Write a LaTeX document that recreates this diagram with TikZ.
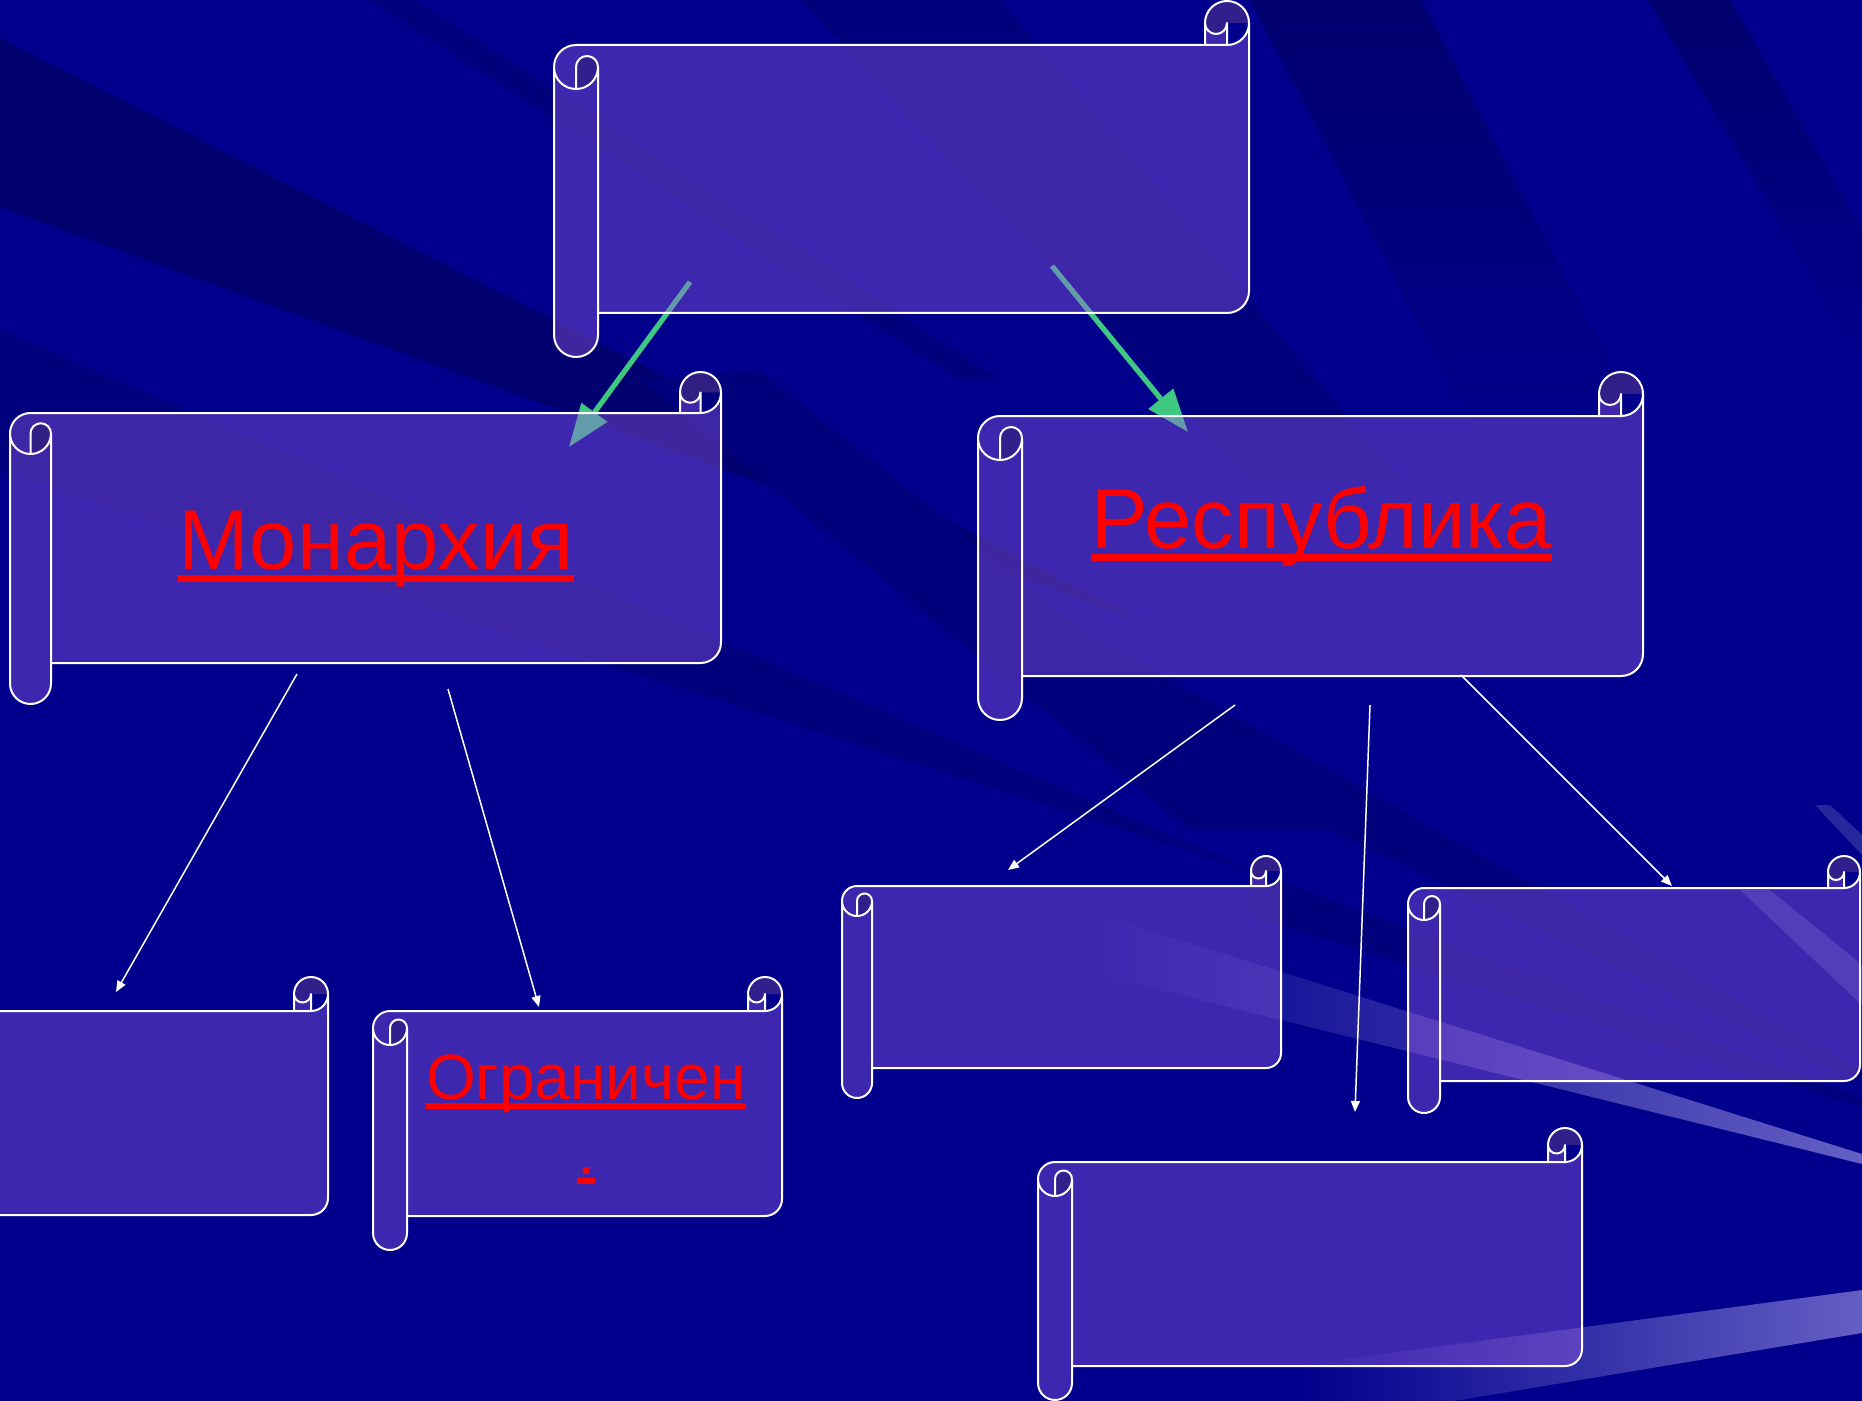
\documentclass[tikz,border=0pt]{standalone}
\usepackage{fontspec}
\setmainfont{Liberation Sans}
\usetikzlibrary{arrows.meta}
\definecolor{bgbase}{RGB}{0,0,140}
\definecolor{bgdark}{RGB}{0,0,110}
\definecolor{bgmid}{RGB}{0,0,124}
\definecolor{scrollfill}{RGB}{150,95,225}
\definecolor{arrowgreen}{RGB}{62,200,130}
\definecolor{raylight}{RGB}{100,95,195}
\definecolor{txtred}{RGB}{255,0,0}

\newcommand\redul[1]{\setbox0\hbox{#1}\rlap{\rule[-0.153em]{\wd0}{0.083em}}\box0}

% scroll: l, t, r, b, ch  (pixel units, y down)
\newcommand\scrollat[5]{%
  \pgfmathsetmacro\Sl{#1}\pgfmathsetmacro\St{#2}\pgfmathsetmacro\Sr{#3}\pgfmathsetmacro\Sb{#4}%
  \pgfmathsetmacro\Sc{#5}\pgfmathsetmacro\Sh{#5/2}\pgfmathsetmacro\Sq{#5/4}%
  % body
  \fill[scrollbody] (\Sr,\St+\Sh) arc[start angle=0,end angle=90,radius=\Sh]
     -- (\Sr-\Sh,\St+\Sh) arc[start angle=0,end angle=180,radius=\Sq]
     -- (\Sr-\Sc,\St+\Sc) -- (\Sl+\Sh,\St+\Sc) arc[start angle=270,end angle=180,radius=\Sh]
     -- (\Sl,\Sb-\Sh) arc[start angle=180,end angle=0,radius=\Sh]
     -- (\Sl+\Sc,\Sb-\Sc) -- (\Sr-\Sh,\Sb-\Sc) arc[start angle=90,end angle=0,radius=\Sh] -- cycle;
  % top right roll
  \fill[scrollbody] (\Sr-\Sc,\St+\Sh) arc[start angle=180,end angle=360,radius=\Sh]
     -- (\Sr-\Sh,\St+\Sh) arc[start angle=0,end angle=180,radius=\Sq] -- cycle;
  \fill[scrollshade] (\Sr-\Sc,\St+\Sh) arc[start angle=180,end angle=360,radius=\Sh]
     -- (\Sr-\Sh,\St+\Sh) arc[start angle=0,end angle=180,radius=\Sq] -- cycle;
  % left curl
  \fill[scrollshade] (\Sl+\Sh,\St+2*\Sc) arc[start angle=90,end angle=0,radius=\Sh]
     arc[start angle=0,end angle=-180,radius=\Sq] -- cycle;
  % outline
  \draw[scrollline] (\Sl,\St+\Sc+\Sh) arc[start angle=180,end angle=270,radius=\Sh]
     -- (\Sr-\Sc,\St+\Sc) -- (\Sr-\Sc,\St+\Sh) arc[start angle=180,end angle=360,radius=\Sh]
     -- (\Sr,\Sb-\Sc-\Sh) arc[start angle=0,end angle=90,radius=\Sh]
     -- (\Sl+\Sc,\Sb-\Sc) -- (\Sl+\Sc,\Sb-\Sh) arc[start angle=0,end angle=180,radius=\Sh] -- cycle
     (\Sr-\Sc,\St+\Sc) -- (\Sr-\Sh,\St+\Sc) arc[start angle=90,end angle=0,radius=\Sh]
     (\Sr-\Sh,\St+\Sc) -- (\Sr-\Sh,\St+\Sh) arc[start angle=0,end angle=180,radius=\Sq]
     (\Sl+\Sh,\St+2*\Sc) -- (\Sl+\Sh,\St+\Sc+\Sh) arc[start angle=180,end angle=360,radius=\Sq]
        arc[start angle=0,end angle=180,radius=\Sh]
     (\Sl+\Sc,\St+\Sc+\Sh) -- (\Sl+\Sc,\Sb-\Sc);
}

\tikzset{
  scrollbody/.style={fill=scrollfill,fill opacity=0.42},
  scrollshade/.style={fill=black,fill opacity=0.2},
  scrollline/.style={draw=white,line width=1pt,line join=round},
  greenarrow/.style={draw=arrowgreen,line width=2.6pt,-{Triangle[length=21.5pt,width=15.5pt]}},
  whitearrow/.style={draw=white,line width=0.75pt,-{Triangle[length=5.5pt,width=4.5pt]}},
  bigred/.style={inner sep=0pt,text=txtred,font=\fontsize{42.5}{50}\selectfont,anchor=base},
  midred/.style={inner sep=0pt,text=txtred,font=\fontsize{32}{37}\selectfont,anchor=base},
  darkband/.style={fill=bgdark},
  midband/.style={fill=bgmid},
}

\begin{document}
\begin{tikzpicture}[x=0.5pt,y=-0.5pt]
\useasboundingbox (0,0) rectangle (1862,1401);
\clip (0,0) rectangle (1862,1401);
% ---------- background ----------
\fill[bgbase] (0,0) rectangle (1862,1401);
\fill[darkband] (0,38) -- (1150,624) -- (0,207) -- cycle;
\fill[midband] (0,330) -- (1250,870) -- (0,470) -- cycle;
\fill[midband] (370,0) -- (415,0) -- (1000,380) -- (960,380) -- cycle;
\fill[midband] (800,0) -- (1000,0) -- (1400,480) -- (1250,480) -- cycle;
\fill[midband] (640,380) -- (760,370) -- (1330,830) -- (1190,830) -- cycle;
\shade[top color=bgdark,bottom color=bgbase] (1250,0) -- (1421,0) -- (1660,460) -- (1490,460) -- cycle;
\shade[top color=bgdark,bottom color=bgbase] (1648,0) -- (1730,0) -- (1862,230) -- (1862,360) -- cycle;
\fill[midband] (1100,640) -- (2000,1150) -- (1100,720) -- cycle;
\fill[midband] (1250,870) -- (2000,1150) -- (1250,915) -- cycle;
% light rays
\shade[left color=bgbase,right color=raylight] (1100,915) -- (1862,1154) -- (1862,1164) -- (1100,975) -- cycle;
\shade[left color=bgbase,right color=raylight] (1300,1365) -- (1862,1290) -- (1862,1333) -- (1454,1401) -- (1300,1401) -- cycle;
\fill[white,fill opacity=0.15] (1740,890) -- (1770,890) -- (1862,965) -- (1862,1005) -- cycle;
\fill[white,fill opacity=0.15] (1815,805) -- (1830,805) -- (1862,835) -- (1862,855) -- cycle;

% ---------- connector end points ----------
\coordinate (g1s) at (690,282);  \coordinate (g1e) at (569,447);
\coordinate (g2s) at (1052,266); \coordinate (g2e) at (1188,432);
\coordinate (w1s) at (297,674);  \coordinate (w1e) at (116,992);
\coordinate (w2s) at (448,689);  \coordinate (w2e) at (539,1007);
\coordinate (w3s) at (1235,705); \coordinate (w3e) at (1008,870);
\coordinate (w4s) at (1370,705); \coordinate (w4e) at (1355,1112);
\coordinate (w5s) at (1461,675); \coordinate (w5e) at (1672,886);

% green arrows (under the translucent scrolls)
\draw[greenarrow] (g1s) -- (g1e);
\draw[greenarrow] (g2s) -- (g2e);

% ---------- scrolls ----------
\scrollat{554}{1}{1249}{357}{44}
\scrollat{10}{372}{721}{704}{41}
\scrollat{978}{372}{1643}{720}{44}
\scrollat{-300}{977}{328}{1249}{34}
\scrollat{373}{977}{782}{1250}{34}
\scrollat{842}{856}{1281}{1098}{30}
\scrollat{1408}{856}{1860}{1113}{32}
\scrollat{1038}{1128}{1582}{1400}{34}

% white arrows
\draw[whitearrow] (w1s) -- (w1e);
\draw[whitearrow] (w2s) -- (w2e);
\draw[whitearrow] (w3s) -- (w3e);
\draw[whitearrow] (w4s) -- (w4e);
\draw[whitearrow] (w5s) -- (w5e);

% ---------- texts ----------
\node[bigred] (monarchy) at (376,569) {\redul{Монархия}};
\node[bigred] (republic) at (1321.5,548) {\redul{Республика}};
\node[midred] (limited) at (586,1099) {\redul{Ограничен}};
\node[midred] (limiteddot) at (586,1174) {\redul{.}};
\end{tikzpicture}
\end{document}
